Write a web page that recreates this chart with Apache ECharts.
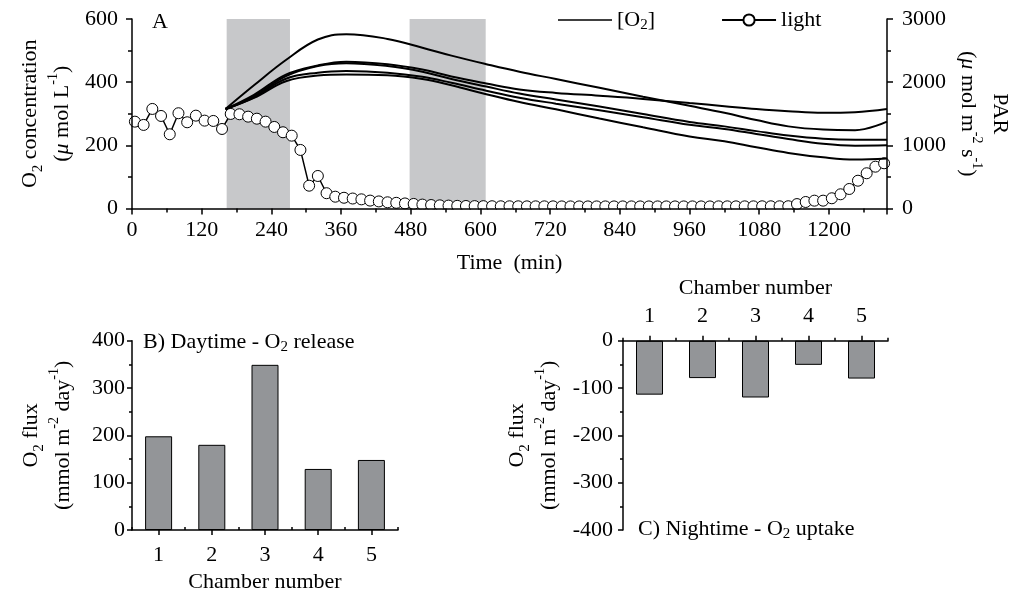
<!DOCTYPE html>
<html>
<head>
<meta charset="utf-8">
<script src="https://cdn.jsdelivr.net/npm/echarts@6/dist/echarts.min.js"></script>
<style>
  html, body { margin: 0; padding: 0; background: #fff; }
  #chart { width: 1021px; height: 590px; }
</style>
</head>
<body>
<div id="chart"></div>
<script>
// ---- Panel A: O2 concentration in the five chambers (µmol L-1) vs time (min)
const o2Time = [161, 210, 265, 320, 369, 440, 500, 550, 610, 667, 730, 805, 880, 960, 1020, 1075, 1130, 1190, 1245, 1300];
const o2Chamber1 = [315, 390, 470, 535, 552, 537, 509, 484, 457, 433, 410, 382, 354, 325, 303, 280, 260, 250, 248, 275];
const o2Chamber2 = [315, 360, 424, 453, 465, 457, 440, 418, 396, 377, 366, 357, 347, 334, 324, 315, 308, 303, 305, 315];
const o2Chamber3 = [315, 355, 419, 451, 460, 451, 433, 410, 386, 364, 345, 323, 299, 274, 260, 245, 231, 221, 218, 218];
const o2Chamber4 = [315, 352, 411, 430, 435, 430, 417, 398, 373, 351, 332, 311, 289, 265, 252, 236, 220, 205, 199, 200];
const o2Chamber5 = [315, 350, 403, 421, 424, 422, 410, 390, 362, 337, 314, 285, 257, 228, 213, 194, 176, 162, 155, 158];

// PAR (µmol m-2 s-1), logged every 15 min
const lightTime = [5, 20, 35, 50, 65, 80, 95, 110, 125, 140, 155, 170, 185, 200, 215, 230, 245, 260, 275, 290,
  305, 320, 335, 350, 365, 380, 395, 410, 425, 440, 455, 470, 485, 500, 515, 530, 545, 560, 575, 590,
  605, 620, 635, 650, 665, 680, 695, 710, 725, 740, 755, 770, 785, 800, 815, 830, 845, 860, 875, 890,
  905, 920, 935, 950, 965, 980, 995, 1010, 1025, 1040, 1055, 1070, 1085, 1100, 1115, 1130, 1145, 1160, 1175, 1190,
  1205, 1220, 1235, 1250, 1265, 1280, 1295];
const lightPAR = [1375, 1323, 1576, 1465, 1175, 1508, 1365, 1470, 1391, 1386,
  1259, 1497, 1492, 1454, 1422, 1375, 1291, 1207, 1153, 927,
  361, 515, 242, 187, 170, 158, 145, 125, 112, 98,
  90, 80, 72, 62, 55, 50, 46, 42, 40, 38,
  37, 36, 35, 35, 35, 34, 34, 34, 34, 33,
  33, 33, 33, 33, 33, 33, 33, 33, 33, 33,
  33, 33, 33, 33, 33, 33, 33, 34, 34, 34,
  34, 34, 35, 35, 35, 36, 70, 103, 124, 124,
  162, 225, 309, 440, 558, 662, 716];

// incubation periods shaded grey (min)
const shadedPeriods = [[163, 272], [478, 609]];

// ---- Panels B and C: O2 flux per chamber (mmol m-2 day-1)
const chambers = ['1', '2', '3', '4', '5'];
const dayRelease = [198, 180, 349, 129, 148];
const nightUptake = [-114, -79, -120, -51, -80];

// ---- styling
const SERIF = '"Liberation Serif", "Times New Roman", Times, serif';
const FS = 22;
const BLACK = '#000';

function richSet(lh) {
  return {
    t:   { fontFamily: SERIF, fontSize: FS, color: BLACK, lineHeight: lh },
    it:  { fontFamily: SERIF, fontSize: FS, color: BLACK, lineHeight: lh, fontStyle: 'italic' },
    sub: { fontFamily: SERIF, fontSize: 15, color: BLACK, lineHeight: lh - 10, verticalAlign: 'bottom' },
    sup: { fontFamily: SERIF, fontSize: 14, color: BLACK, lineHeight: lh - 14, verticalAlign: 'top' }
  };
}

const stroke = () => ({ color: BLACK, width: 1.5 });
const plainNumber = v => String(v);

function label(margin, formatter) {
  return { margin: margin, fontFamily: SERIF, fontSize: FS, color: BLACK, formatter: formatter || plainNumber };
}

function axisBase(extra, tickLen, minorLen) {
  const o = {
    z: 5,
    axisLine: { show: true, onZero: false, lineStyle: stroke() },
    axisTick: { show: true, length: tickLen, lineStyle: stroke() },
    splitLine: { show: false },
    nameTextStyle: { fontFamily: SERIF, fontSize: FS, color: BLACK, rich: richSet(32) }
  };
  if (minorLen) o.minorTick = { show: true, splitNumber: 2, length: minorLen, lineStyle: stroke() };
  return Object.assign(o, extra);
}

const GRID_A = { left: 132, top: 19, width: 755, height: 189.5 };
const GRID_B = { left: 132, top: 340.7, width: 266, height: 189.3 };
const GRID_C = { left: 623, top: 340.7, width: 265, height: 189.3 };

const zip = (xs, ys) => xs.map((x, i) => [x, ys[i]]);
const o2Sets = [o2Chamber1, o2Chamber2, o2Chamber3, o2Chamber4, o2Chamber5];

const o2Series = o2Sets.map(vals => ({
  name: '[O2]', type: 'line', xAxisIndex: 0, yAxisIndex: 0, z: 4,
  data: zip(o2Time, vals), smooth: 0.4, symbol: 'none',
  lineStyle: { color: BLACK, width: 2 },
  itemStyle: { color: BLACK }
}));
// grey incubation periods sit behind the first O2 curve
o2Series[0].markArea = {
  silent: true,
  itemStyle: { color: '#c7c8ca' },
  data: shadedPeriods.map(p => [{ xAxis: p[0] }, { xAxis: p[1] }])
};

const chart = echarts.init(document.getElementById('chart'));

const option = {
  animation: false,
  backgroundColor: '#fff',
  title: [
    { text: 'A', left: 152, top: 9, padding: 0,
      textStyle: { fontFamily: SERIF, fontSize: FS, fontWeight: 'normal', color: BLACK, lineHeight: 26 } },
    { text: '{t|B) Daytime - O}{sub|2}{t| release}', left: 143, top: 329, padding: 0,
      textStyle: { fontFamily: SERIF, fontSize: FS, fontWeight: 'normal', color: BLACK, rich: richSet(26) } },
    { text: '{t|C) Nightime - O}{sub|2}{t| uptake}', left: 638, top: 516, padding: 0,
      textStyle: { fontFamily: SERIF, fontSize: FS, fontWeight: 'normal', color: BLACK, rich: richSet(26) } }
  ],
  legend: {
    left: 558, top: 9, padding: 0,
    itemWidth: 54, itemHeight: 14, itemGap: 66,
    selectedMode: false,
    data: [
      { name: '[O2]', icon: 'path://M0,0 M54,14 M0,6.2 L54,6.2 L54,7.8 L0,7.8 Z' },
      { name: 'light' }
    ],
    formatter: name => name === '[O2]' ? '{t|[O}{sub|2}{t|]}' : '{t|light}',
    textStyle: { fontFamily: SERIF, fontSize: FS, color: BLACK, rich: richSet(26) }
  },
  grid: [
    Object.assign({ outerBoundsMode: 'none' }, GRID_A),
    Object.assign({ outerBoundsMode: 'none' }, GRID_B),
    Object.assign({ outerBoundsMode: 'none' }, GRID_C)
  ],
  xAxis: [
    axisBase({
      type: 'value', gridIndex: 0, min: 0, max: 1300, interval: 120,
      axisLabel: label(11, v => (v % 120 === 0 ? String(v) : '')),
      name: '{t|Time  (min)}', nameLocation: 'middle', nameGap: 39
    }, 6, 4),
    axisBase({
      type: 'category', gridIndex: 1, data: chambers,
      axisTick: { show: true, alignWithLabel: true, length: 5, lineStyle: stroke() },
      axisLabel: label(14),
      name: '{t|Chamber number}', nameLocation: 'middle', nameGap: 36
    }, 5),
    axisBase({
      type: 'category', gridIndex: 1, data: chambers,
      axisLine: { show: false },
      axisLabel: { show: false }
    }, 3),
    axisBase({
      type: 'category', gridIndex: 2, position: 'top', data: chambers,
      axisTick: { show: true, alignWithLabel: true, length: 5, lineStyle: stroke() },
      axisLabel: label(13),
      name: '{t|Chamber number}', nameLocation: 'middle', nameGap: 36
    }, 5),
    axisBase({
      type: 'category', gridIndex: 2, position: 'top', data: chambers,
      axisLine: { show: false },
      axisLabel: { show: false }
    }, 3)
  ],
  yAxis: [
    axisBase({
      type: 'value', gridIndex: 0, min: 0, max: 600, interval: 200,
      axisLabel: label(14),
      name: '{t|O}{sub|2}{t| concentration}\n{t|(}{it|μ}{t| mol L}{sup|-1}{t|)}',
      nameLocation: 'middle', nameRotate: 90, nameGap: 54
    }, 6, 4),
    axisBase({
      type: 'value', gridIndex: 0, position: 'right', min: 0, max: 3000, interval: 1000,
      axisLabel: label(15),
      name: '{t|PAR}\n{t|(}{it|μ}{t| mol m}{sup|-2}{t| s}{sup|-1}{t|)}',
      nameLocation: 'middle', nameRotate: -90, nameGap: 56
    }, 6, 4),
    axisBase({
      type: 'value', gridIndex: 1, min: 0, max: 400, interval: 100,
      axisLabel: label(7),
      name: '{t|O}{sub|2}{t| flux}\n{t|(mmol m}{sup|-2}{t| day}{sup|-1}{t|)}',
      nameLocation: 'middle', nameRotate: 90, nameGap: 53
    }, 5, 3),
    axisBase({
      type: 'value', gridIndex: 2, min: -400, max: 0, interval: 100,
      axisLabel: label(10),
      name: '{t|O}{sub|2}{t| flux}\n{t|(mmol m}{sup|-2}{t| day}{sup|-1}{t|)}',
      nameLocation: 'middle', nameRotate: 90, nameGap: 58
    }, 5, 3)
  ],
  // hides the lower halves of the night-time markers that dip under the time axis
  graphic: [{
    type: 'rect', silent: true, z: 4,
    shape: { x: GRID_A.left + 1, y: GRID_A.top + GRID_A.height + 1, width: GRID_A.width - 2, height: 7 },
    style: { fill: '#fff' }
  }],
  series: [
    {
      name: 'light', type: 'line', xAxisIndex: 0, yAxisIndex: 1, z: 3,
      data: zip(lightTime, lightPAR),
      symbol: 'circle', symbolSize: 11, showSymbol: true, showAllSymbol: true,
      lineStyle: { color: BLACK, width: 1.5 },
      itemStyle: { color: '#fff', borderColor: BLACK, borderWidth: 1 }
    }
  ].concat(o2Series).concat([
    {
      name: 'day', type: 'bar', xAxisIndex: 1, yAxisIndex: 2, data: dayRelease, barWidth: 27,
      itemStyle: { color: '#939598', borderColor: BLACK, borderWidth: 1 }
    },
    {
      name: 'night', type: 'bar', xAxisIndex: 3, yAxisIndex: 3, data: nightUptake, barWidth: 27,
      itemStyle: { color: '#939598', borderColor: BLACK, borderWidth: 1 }
    }
  ])
};

chart.setOption(option);
</script>
</body>
</html>
